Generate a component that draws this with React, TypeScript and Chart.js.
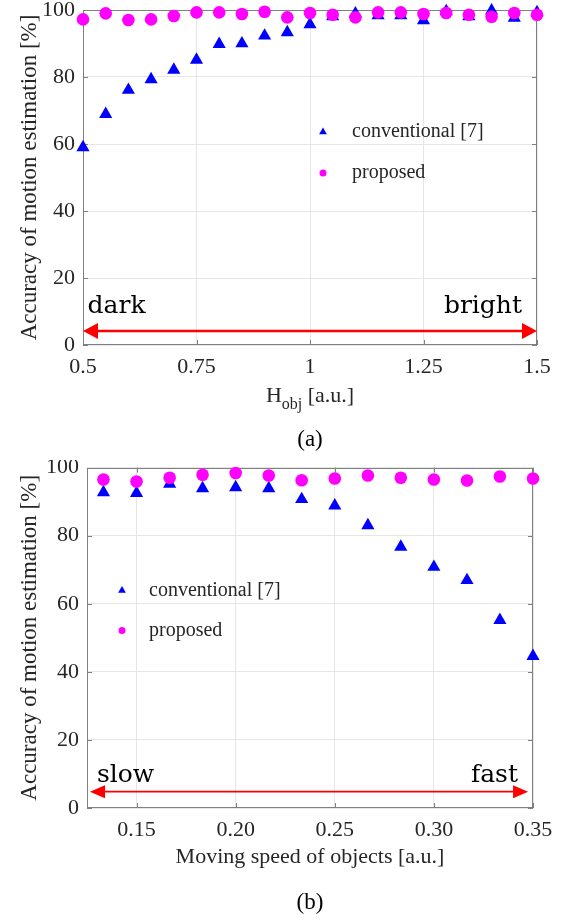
import React, { useEffect, useRef } from "react";
import { Chart, registerables } from "chart.js";

Chart.register(...registerables);

// ---------- Data: panel (a) ----------
const xTop = [0.5, 0.55, 0.6, 0.65, 0.7, 0.75, 0.8, 0.85, 0.9, 0.95, 1.0, 1.05, 1.1, 1.15, 1.2, 1.25, 1.3, 1.35, 1.4, 1.45, 1.5];
const convTop = [59.0, 68.9, 76.1, 79.3, 82.1, 85.1, 89.8, 90.0, 92.3, 93.3, 95.7, 98.1, 98.9, 98.4, 98.4, 96.9, 99.6, 98.1, 99.8, 97.6, 99.3];
const propTop = [97.2, 99.0, 97.0, 97.2, 98.2, 99.3, 99.3, 98.8, 99.5, 97.8, 99.1, 98.6, 97.8, 99.3, 99.3, 98.8, 99.1, 98.6, 98.0, 99.1, 98.6];
const xTicksTop = [0.5, 0.75, 1, 1.25, 1.5];

// ---------- Data: panel (b) ----------
const xBot = [0.1333, 0.15, 0.1667, 0.1833, 0.2, 0.2167, 0.2333, 0.25, 0.2667, 0.2833, 0.3, 0.3167, 0.3333, 0.35];
const convBot = [92.7, 92.5, 95.2, 93.9, 94.2, 93.9, 90.7, 88.8, 83.0, 76.7, 70.8, 66.9, 55.2, 44.6];
const propBot = [96.5, 95.9, 97.0, 97.9, 98.4, 97.7, 96.3, 96.8, 97.7, 97.0, 96.5, 96.2, 97.4, 96.8];
const xTicksBot = [0.15, 0.2, 0.25, 0.3, 0.35];

const yTicks = [0, 20, 40, 60, 80, 100];
const seriesNames = ["conventional [7]", "proposed"];

// annotation arrows: [xFrom, xTo, y]
const arrowTop = [0.5, 1.5, 4.2];
const arrowBot = [0.1265, 0.3475, 4.8];
// annotation words: [text, x, y]
const wordsTop: [string, number, number][] = [["dark", 0.51, 9.5], ["bright", 1.467, 9.5]];
const wordsBot: [string, number, number][] = [["slow", 0.13, 7.5], ["fast", 0.3424, 7.5]];

const SERIF = "'Liberation Serif', 'Times New Roman', serif";
const TEXT = "#262626";
const AXIS = "#808080";
const GRID = "#e6e6e6";
const BLUE = "#0000ff";
const MAGENTA = "#ff00ff";
const RED = "#ff0000";

type PanelCfg = {
  height: number;
  x: number[];
  conv: number[];
  prop: number[];
  xMin: number;
  xMax: number;
  xTicks: number[];
  fmt: (v: number) => string;
  padTop: number;
  padRight: number;
  yAxisWidth: number;
  xAxisHeight: number;
  arrow: number[];
  arrowWidth: number;
  arrowHead: [number, number];
  words: [string, number, number][];
  legend: { mx: number; my1: number; my2: number; tx: number };
  drawXTitle: (ctx: CanvasRenderingContext2D, cx: number, base: number) => void;
  xTitleOffset: number;
  caption: string;
  captionOffset: number;
};

function drawTri(ctx: CanvasRenderingContext2D, x: number, y: number, r: number) {
  ctx.beginPath();
  ctx.moveTo(x, y - r);
  ctx.lineTo(x + r * Math.sin((2 * Math.PI) / 3), y - r * Math.cos((2 * Math.PI) / 3));
  ctx.lineTo(x + r * Math.sin((4 * Math.PI) / 3), y - r * Math.cos((4 * Math.PI) / 3));
  ctx.closePath();
  ctx.fill();
}

function Panel({ cfg }: { cfg: PanelCfg }) {
  const ref = useRef<HTMLCanvasElement>(null);
  useEffect(() => {
    const canvas = ref.current;
    if (!canvas) return;
    const deco = {
      id: "deco",
      beforeDatasetsDraw(chart: any) {
        const { ctx, chartArea: a } = chart;
        const xs = chart.scales.x;
        const ys = chart.scales.y;
        ctx.save();
        ctx.strokeStyle = AXIS;
        ctx.lineWidth = 1;
        ctx.strokeRect(Math.round(a.left) + 0.5, Math.round(a.top) + 0.5, Math.round(a.right - a.left) - 1, Math.round(a.bottom - a.top) - 1);
        // inward tick marks (MATLAB style)
        ctx.beginPath();
        for (const v of cfg.xTicks) {
          const px = Math.round(xs.getPixelForValue(v)) + 0.5;
          ctx.moveTo(px, a.bottom);
          ctx.lineTo(px, a.bottom - 5);
          ctx.moveTo(px, a.top);
          ctx.lineTo(px, a.top + 5);
        }
        for (const v of yTicks) {
          const py = Math.round(ys.getPixelForValue(v)) + 0.5;
          ctx.moveTo(a.left, py);
          ctx.lineTo(a.left + 5, py);
          ctx.moveTo(a.right, py);
          ctx.lineTo(a.right - 5, py);
        }
        ctx.stroke();
        ctx.restore();
      },
      afterDatasetsDraw(chart: any) {
        const { ctx, chartArea: a } = chart;
        const xs = chart.scales.x;
        const ys = chart.scales.y;
        ctx.save();
        // double-headed arrow
        const x1 = xs.getPixelForValue(cfg.arrow[0]);
        const x2 = xs.getPixelForValue(cfg.arrow[1]);
        const y = ys.getPixelForValue(cfg.arrow[2]);
        const [hl, hw] = cfg.arrowHead;
        ctx.strokeStyle = RED;
        ctx.fillStyle = RED;
        ctx.lineWidth = cfg.arrowWidth;
        ctx.beginPath();
        ctx.moveTo(x1 + hl - 1, y);
        ctx.lineTo(x2 - hl + 1, y);
        ctx.stroke();
        ctx.beginPath();
        ctx.moveTo(x1, y);
        ctx.lineTo(x1 + hl, y - hw);
        ctx.lineTo(x1 + hl, y + hw);
        ctx.closePath();
        ctx.fill();
        ctx.beginPath();
        ctx.moveTo(x2, y);
        ctx.lineTo(x2 - hl, y - hw);
        ctx.lineTo(x2 - hl, y + hw);
        ctx.closePath();
        ctx.fill();
        // words
        ctx.fillStyle = "#000000";
        ctx.font = "25px 'DejaVu Serif', serif";
        ctx.textBaseline = "alphabetic";
        cfg.words.forEach(([t, wx, wy], i) => {
          ctx.textAlign = i === 0 ? "left" : "right";
          ctx.fillText(t, xs.getPixelForValue(wx), ys.getPixelForValue(wy));
        });
        // legend
        const L = cfg.legend;
        ctx.fillStyle = BLUE;
        drawTri(ctx, a.left + L.mx, a.top + L.my1, 4.5);
        ctx.fillStyle = MAGENTA;
        ctx.beginPath();
        ctx.arc(a.left + L.mx, a.top + L.my2, 3.5, 0, Math.PI * 2);
        ctx.fill();
        ctx.fillStyle = TEXT;
        ctx.font = `20px ${SERIF}`;
        ctx.textAlign = "left";
        ctx.textBaseline = "middle";
        ctx.fillText(seriesNames[0], a.left + L.tx, a.top + L.my1);
        ctx.fillText(seriesNames[1], a.left + L.tx, a.top + L.my2);
        // x title and caption
        const cx = (a.left + a.right) / 2;
        ctx.textBaseline = "alphabetic";
        ctx.fillStyle = TEXT;
        cfg.drawXTitle(ctx, cx, a.bottom + cfg.xTitleOffset);
        ctx.fillStyle = "#000000";
        ctx.font = `23px ${SERIF}`;
        ctx.textAlign = "center";
        ctx.fillText(cfg.caption, cx, a.bottom + cfg.captionOffset);
        ctx.restore();
      },
    };

    const chart = new Chart(canvas, {
      type: "scatter",
      data: {
        datasets: [
          {
            label: seriesNames[1],
            data: cfg.x.map((v, i) => ({ x: v, y: cfg.prop[i] })),
            pointStyle: "circle",
            pointRadius: 6.3,
            backgroundColor: MAGENTA,
            borderColor: MAGENTA,
            borderWidth: 0,
            clip: false as any,
          },
          {
            label: seriesNames[0],
            data: cfg.x.map((v, i) => ({ x: v, y: cfg.conv[i] })),
            pointStyle: "triangle",
            pointRadius: 7.6,
            backgroundColor: BLUE,
            borderColor: BLUE,
            borderWidth: 0,
            clip: false as any,
          },
        ],
      },
      options: {
        animation: false,
        responsive: false,
        maintainAspectRatio: false,
        events: [],
        layout: { padding: { left: 0, right: cfg.padRight, top: cfg.padTop, bottom: 0 } },
        plugins: { legend: { display: false }, tooltip: { enabled: false }, title: { display: false } },
        scales: {
          x: {
            type: "linear",
            min: cfg.xMin,
            max: cfg.xMax,
            afterBuildTicks: (s: any) => {
              s.ticks = cfg.xTicks.map((v) => ({ value: v }));
            },
            afterFit: (s: any) => {
              s.height = cfg.xAxisHeight;
              s.paddingLeft = 0;
              s.paddingRight = 0;
            },
            ticks: {
              autoSkip: false,
              maxRotation: 0,
              padding: 9,
              color: TEXT,
              font: { family: SERIF, size: 22 },
              callback: (v: any) => cfg.fmt(Number(v)),
            },
            grid: { color: GRID, drawTicks: false, lineWidth: 1 },
            border: { display: false },
          },
          y: {
            type: "linear",
            min: 0,
            max: 100,
            afterBuildTicks: (s: any) => {
              s.ticks = yTicks.map((v) => ({ value: v }));
            },
            afterFit: (s: any) => {
              s.width = cfg.yAxisWidth;
              s.paddingTop = 0;
              s.paddingBottom = 0;
            },
            ticks: {
              padding: 8,
              color: TEXT,
              font: { family: SERIF, size: 22 },
            },
            grid: { color: GRID, drawTicks: false, lineWidth: 1 },
            border: { display: false },
            title: {
              display: true,
              text: "Accuracy of motion estimation [%]",
              color: TEXT,
              font: { family: SERIF, size: 23 },
              padding: { top: 16, bottom: 0 },
            },
          },
        },
      } as any,
      plugins: [deco],
    });
    return () => chart.destroy();
  }, [cfg]);
  return (
    <div style={{ width: 563, height: cfg.height }}>
      <canvas ref={ref} width={563} height={cfg.height} style={{ display: "block" }} />
    </div>
  );
}

const topCfg: PanelCfg = {
  height: 460,
  x: xTop,
  conv: convTop,
  prop: propTop,
  xMin: 0.5,
  xMax: 1.5,
  xTicks: xTicksTop,
  fmt: (v) => String(v),
  padTop: 10,
  padRight: 26,
  yAxisWidth: 83,
  xAxisHeight: 115,
  arrow: arrowTop,
  arrowWidth: 2.5,
  arrowHead: [15, 8],
  words: wordsTop,
  legend: { mx: 240, my1: 122, my2: 163, tx: 269 },
  drawXTitle: (ctx, cx, base) => {
    const big = `22px ${SERIF}`;
    const small = `16px ${SERIF}`;
    ctx.font = big;
    const wH = ctx.measureText("H").width;
    const wRest = ctx.measureText(" [a.u.]").width;
    ctx.font = small;
    const wSub = ctx.measureText("obj").width;
    const total = wH + wSub + wRest;
    let x = cx - total / 2;
    ctx.textAlign = "left";
    ctx.font = big;
    ctx.fillText("H", x, base);
    x += wH;
    ctx.font = small;
    ctx.fillText("obj", x, base + 7);
    x += wSub;
    ctx.font = big;
    ctx.fillText(" [a.u.]", x, base);
  },
  xTitleOffset: 57,
  caption: "(a)",
  captionOffset: 101,
};

const botCfg: PanelCfg = {
  height: 462,
  x: xBot,
  conv: convBot,
  prop: propBot,
  xMin: 0.125,
  xMax: 0.35,
  xTicks: xTicksBot,
  fmt: (v) => v.toFixed(2),
  padTop: 6,
  padRight: 30,
  yAxisWidth: 87,
  xAxisHeight: 114,
  arrow: arrowBot,
  arrowWidth: 1.8,
  arrowHead: [15, 6.5],
  words: wordsBot,
  legend: { mx: 35, my1: 123, my2: 163, tx: 62 },
  drawXTitle: (ctx, cx, base) => {
    ctx.font = `22px ${SERIF}`;
    ctx.textAlign = "center";
    ctx.fillText("Moving speed of objects [a.u.]", cx, base);
  },
  xTitleOffset: 55,
  caption: "(b)",
  captionOffset: 101,
};

export default function App() {
  useEffect(() => {
    document.body.style.margin = "0";
    document.body.style.background = "#ffffff";
  }, []);
  return (
    <div style={{ width: 563, background: "#ffffff" }}>
      <Panel cfg={topCfg} />
      <Panel cfg={botCfg} />
    </div>
  );
}
